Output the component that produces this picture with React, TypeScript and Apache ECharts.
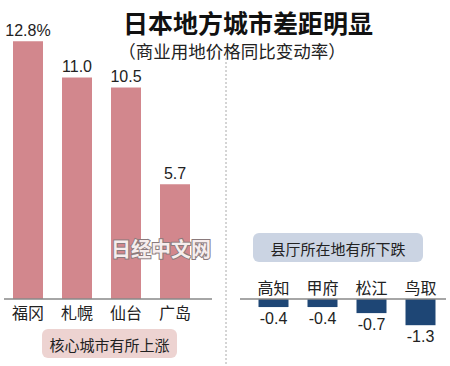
import React, { useEffect, useRef } from "react";
import * as echarts from "echarts";

const riseCities = ["福冈", "札幌", "仙台", "广岛"];
const riseValues = [12.8, 11.0, 10.5, 5.7];
const fallCities = ["高知", "甲府", "松江", "鸟取"];
const fallValues = [-0.4, -0.4, -0.7, -1.3];

const titleText = "日本地方城市差距明显";
const subtitleText = "（商业用地价格同比变动率）";
const riseNote = "核心城市有所上涨";
const fallNote = "县厅所在地有所下跌";
const watermark = "日经中文网";

const FONT = "'Liberation Sans', 'Noto Sans CJK SC', sans-serif";
const CJK = "'Noto Sans CJK SC', sans-serif";

export default function App() {
  const ref = useRef<HTMLDivElement>(null);
  useEffect(() => {
    if (!ref.current) return;
    const chart = echarts.init(ref.current, null, { renderer: "svg" });
    chart.setOption({
      animation: false,
      backgroundColor: "#ffffff",
      grid: [
        { left: 3.5, top: 17, width: 196, height: 282 },
        { left: 249, top: 299, width: 196, height: 40.3 },
      ],
      xAxis: [
        {
          gridIndex: 0,
          type: "category",
          data: riseCities,
          axisLine: { show: false },
          axisTick: { show: false },
          axisLabel: { fontSize: 16, color: "#222", margin: 5, fontFamily: CJK },
        },
        {
          gridIndex: 1,
          type: "category",
          position: "top",
          data: fallCities,
          axisLine: { show: false },
          axisTick: { show: false },
          axisLabel: { fontSize: 16, color: "#222", margin: 4, fontFamily: CJK },
        },
      ],
      yAxis: [
        { gridIndex: 0, type: "value", min: 0, max: 14, show: false },
        { gridIndex: 1, type: "value", min: -2, max: 0, show: false },
      ],
      series: [
        {
          type: "bar",
          xAxisIndex: 0,
          yAxisIndex: 0,
          data: riseValues,
          barWidth: 30,
          itemStyle: { color: "#d2878d" },
          label: {
            show: true,
            position: "top",
            distance: 3,
            fontSize: 16,
            color: "#222",
            fontFamily: FONT,
            formatter: (p: any) =>
              p.dataIndex === 0 ? p.value.toFixed(1) + "%" : p.value.toFixed(1),
          },
        },
        {
          type: "bar",
          xAxisIndex: 1,
          yAxisIndex: 1,
          data: fallValues,
          barWidth: 30,
          itemStyle: { color: "#1e4675" },
          label: {
            show: true,
            position: "bottom",
            distance: 3,
            fontSize: 16,
            color: "#222",
            fontFamily: FONT,
            formatter: (p: any) => p.value.toFixed(1),
          },
        },
      ],
      graphic: [
        {
          type: "text",
          x: 248,
          y: 22,
          style: {
            text: titleText,
            fontSize: 25,
            fontWeight: "bold",
            fill: "#111",
            fontFamily: CJK,
            align: "center",
            verticalAlign: "middle",
          },
        },
        {
          type: "text",
          x: 232,
          y: 50,
          style: {
            text: subtitleText,
            fontSize: 17.5,
            fill: "#222",
            fontFamily: CJK,
            align: "center",
            verticalAlign: "middle",
          },
        },
        {
          type: "line",
          shape: { x1: 226, y1: 58, x2: 226, y2: 366 },
          style: { stroke: "#aaa", lineWidth: 1, lineDash: [2, 2] },
        },
        {
          type: "line",
          shape: { x1: 4, y1: 299, x2: 212, y2: 299 },
          style: { stroke: "#888", lineWidth: 1.5 },
          z: 10,
        },
        {
          type: "line",
          shape: { x1: 240, y1: 299, x2: 446, y2: 299 },
          style: { stroke: "#888", lineWidth: 1.5 },
          z: 10,
        },
        {
          type: "rect",
          shape: { x: 42, y: 329, width: 135, height: 29, r: 6 },
          style: { fill: "#edd3d1" },
        },
        {
          type: "text",
          x: 109.5,
          y: 344,
          style: {
            text: riseNote,
            fontSize: 15,
            fill: "#222",
            fontFamily: CJK,
            align: "center",
            verticalAlign: "middle",
          },
        },
        {
          type: "rect",
          shape: { x: 253, y: 233, width: 170, height: 29, r: 6 },
          style: { fill: "#cbd4e3" },
        },
        {
          type: "text",
          x: 338,
          y: 248,
          style: {
            text: fallNote,
            fontSize: 15,
            fill: "#222",
            fontFamily: CJK,
            align: "center",
            verticalAlign: "middle",
          },
        },
        {
          type: "text",
          x: 161,
          y: 248,
          z: 20,
          style: {
            text: watermark,
            fontSize: 20,
            fontWeight: "bold",
            fill: "#f6eded",
            stroke: "#8a7a7c",
            lineWidth: 2,
            fontFamily: CJK,
            align: "center",
            verticalAlign: "middle",
          },
        },
      ],
    });
    return () => chart.dispose();
  }, []);
  return (
    <div
      ref={ref}
      style={{ position: "absolute", left: 0, top: 0, width: 450, height: 366 }}
    />
  );
}
